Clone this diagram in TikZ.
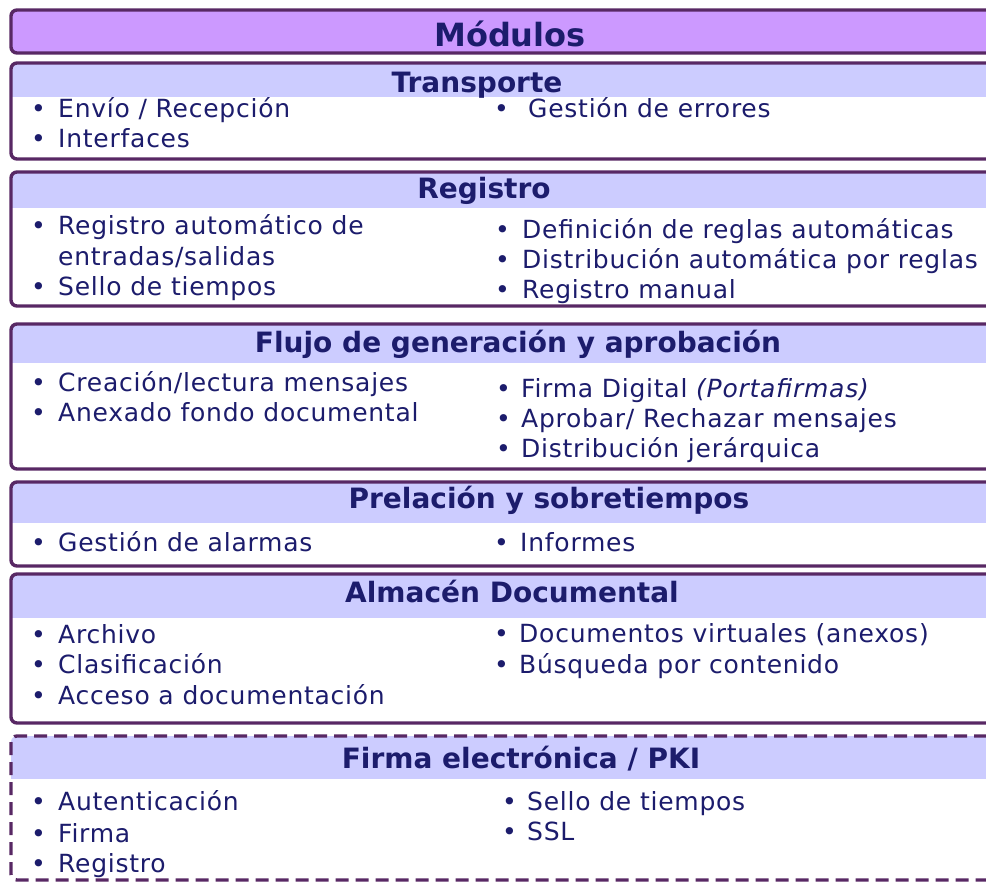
\documentclass[tikz,border=0pt]{standalone}
\usepackage{fontspec}
\setmainfont{DejaVu Sans}
\definecolor{txt}{RGB}{28,28,108}
\definecolor{bord}{RGB}{88,40,100}
\definecolor{modfill}{RGB}{204,153,255}
\definecolor{secfill}{RGB}{204,204,255}
\newcommand\bl[1]{\makebox[#1][l]{•}}
\newcommand\secframe[5]{%
  \begin{scope}
    \clip[rounded corners=6] (11,#1) rectangle (1012,#3);
    \fill[secfill] (11,#1) rectangle (1012,#2);
  \end{scope}
  \draw[frame,#4] (11,#1) rectangle (1012,#3);
}
\begin{document}
\begin{tikzpicture}[x=1pt,y=-1pt,
  frame/.style={draw=bord,line width=3.4pt,rounded corners=6},
  item/.style={anchor=base west,inner sep=0,text=txt,font=\fontsize{25}{30}\selectfont\addfontfeature{LetterSpace=3}},
  hdr/.style={anchor=base,inner sep=0,text=txt,font=\bfseries\fontsize{28}{34}\selectfont},
  tophdr/.style={anchor=base,inner sep=0,text=txt,font=\bfseries\fontsize{32}{38}\selectfont}]
\useasboundingbox (0,0) rectangle (986,882);
\clip (0,0) rectangle (986,882);
\fill[white] (0,0) rectangle (986,882);

% Modulos
\draw[frame,fill=modfill] (11,10) rectangle (1012,53);
\node[tophdr] (mod) at (510,47) {Módulos};

% Transporte
\secframe{63}{97}{159}{}{}
\node[hdr] (h1) at (477,93) {Transporte};
\node[item] (t1) at (31,118) {\bl{27pt}Envío / Recepción};
\node[item] (t2) at (31,148) {\bl{27pt}Interfaces};
\node[item] (t3) at (494,118) {\bl{34pt}Gestión de errores};

% Registro
\secframe{172}{208}{306}{}{}
\node[hdr] (h2) at (484,199) {Registro};
\node[item] (r1) at (31,235) {\bl{27pt}Registro automático de};
\node[item] (r2) at (58,266) {entradas/salidas};
\node[item] (r3) at (31,296) {\bl{27pt}Sello de tiempos};
\node[item] (r4) at (495,239) {\bl{27pt}Definición de reglas automáticas};
\node[item] (r5) at (495,269) {\bl{27pt}Distribución automática por reglas};
\node[item] (r6) at (495,299) {\bl{27pt}Registro manual};

% Flujo
\secframe{324}{363}{469}{}{}
\node[hdr] (h3) at (518,353) {Flujo de generación y aprobación};
\node[item] (f1) at (31,392) {\bl{27pt}Creación/lectura mensajes};
\node[item] (f2) at (31,422) {\bl{27pt}Anexado fondo documental};
\node[item] (f3) at (496,398) {\bl{25pt}Firma Digital {\itshape\addfontfeature{LetterSpace=3}(Portafirmas)}};
\node[item] (f4) at (496,428) {\bl{25pt}Aprobar/ Rechazar mensajes};
\node[item] (f5) at (496,458) {\bl{25pt}Distribución jerárquica};

% Prelacion
\secframe{482}{523}{566}{}{}
\node[hdr] (h4) at (549,509) {Prelación y sobretiempos};
\node[item] (p1) at (31,551) {\bl{27pt}Gestión de alarmas};
\node[item] (p2) at (494,551) {\bl{26pt}Informes};

% Almacen
\secframe{574}{618}{723}{}{}
\node[hdr] (h5) at (512,602) {Almacén Documental};
\node[item] (a1) at (31,643) {\bl{27pt}Archivo};
\node[item] (a2) at (31,673) {\bl{27pt}Clasificación};
\node[item] (a3) at (31,704) {\bl{27pt}Acceso a documentación};
\node[item] (a4) at (494,642) {\bl{25pt}Documentos virtuales (anexos)};
\node[item] (a5) at (494,673) {\bl{25pt}Búsqueda por contenido};

% Firma electronica
\secframe{736}{779}{880}{dash pattern=on 13pt off 7pt}{}
\node[hdr] (h6) at (521,768) {Firma electrónica / PKI};
\node[item] (e1) at (31,810) {\bl{27pt}Autenticación};
\node[item] (e2) at (31,842) {\bl{27pt}Firma};
\node[item] (e3) at (31,872) {\bl{27pt}Registro};
\node[item] (e4) at (502,810) {\bl{25pt}Sello de tiempos};
\node[item] (e5) at (502,840) {\bl{25pt}SSL};
\end{tikzpicture}
\end{document}
